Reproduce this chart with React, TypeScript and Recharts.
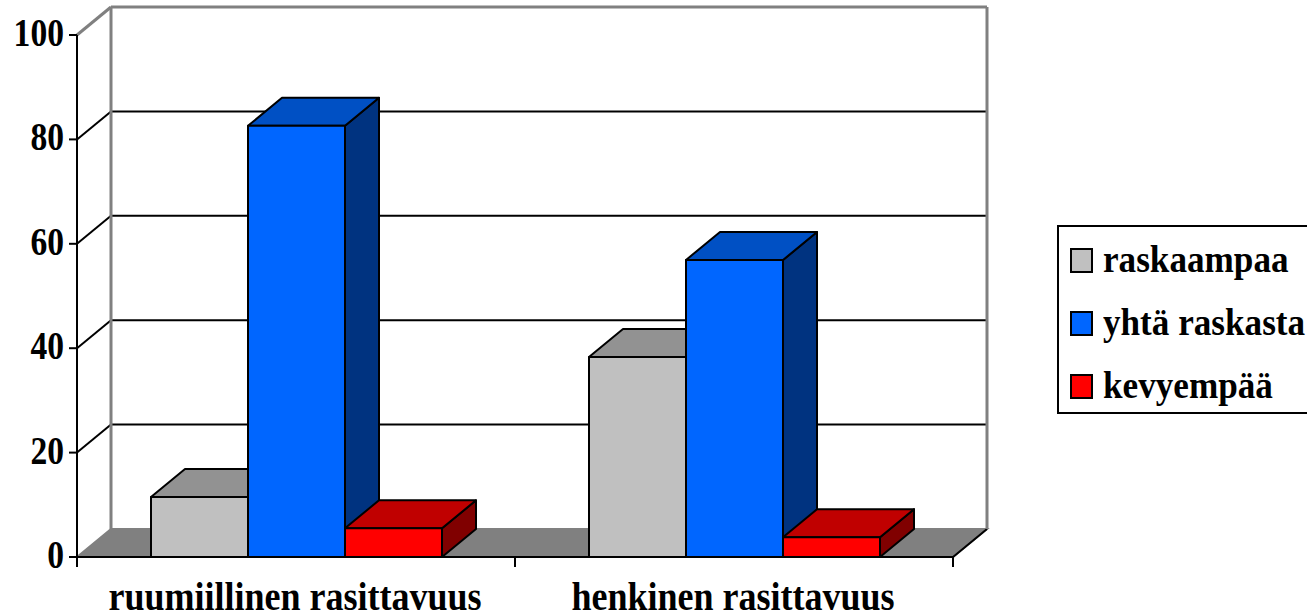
import { Bar, BarChart, CartesianGrid, Legend, XAxis, YAxis } from "recharts";

const categories = ["ruumiillinen rasittavuus", "henkinen rasittavuus"];
const raskaampaa = [11.5, 38.3];
const yhtaRaskasta = [82.6, 56.9];
const kevyempaa = [5.5, 3.8];
const yTicks = [0, 20, 40, 60, 80, 100];

const seriesNames = ["raskaampaa", "yhtä raskasta", "kevyempää"];
const frontColors = ["#c0c0c0", "#0066ff", "#ff0000"];
const topColors = ["#929292", "#0050c4", "#c00000"];
const sideColors = ["#808080", "#003380", "#800000"];

const data = categories.map((nimi, i) => ({
  nimi,
  raskaampaa: raskaampaa[i],
  yhtaRaskasta: yhtaRaskasta[i],
  kevyempaa: kevyempaa[i],
}));

const WIDTH = 1307;
const HEIGHT = 613;
const DX = 34;
const DY = 28;
const PLOT_LEFT = 77;
const PLOT_RIGHT = 953;
const PLOT_TOP = 35;
const PLOT_BOTTOM = 557;
const LEGEND_WIDTH = 260;
const FONT = '"Liberation Serif", "Times New Roman", serif';

function palkki(seriesIndex: number) {
  return function Palkki3D(props: any) {
    const { x, y, width, height } = props;
    const top = `${x},${y} ${x + DX},${y - DY} ${x + width + DX},${y - DY} ${x + width},${y}`;
    const side = `${x + width},${y} ${x + width + DX},${y - DY} ${x + width + DX},${y + height - DY} ${x + width},${y + height}`;
    return (
      <g stroke="#000" strokeWidth={2} strokeLinejoin="round">
        <polygon points={side} fill={sideColors[seriesIndex]} />
        <polygon points={top} fill={topColors[seriesIndex]} />
        <rect x={x} y={y} width={width} height={height} fill={frontColors[seriesIndex]} />
      </g>
    );
  };
}

// back wall, side wall and floor hang off the grid lines
function Ruudukko(props: any) {
  const { x1, x2, y1 } = props;
  const isFloor = Math.abs(y1 - PLOT_BOTTOM) < 1;
  const isTop = Math.abs(y1 - PLOT_TOP) < 1;
  if (isFloor) {
    return (
      <g key={props.key}>
        <polygon
          points={`${x1},${y1} ${x1 + DX},${y1 - DY} ${x2 + DX},${y1 - DY} ${x2},${y1}`}
          fill="#808080"
          stroke="#808080"
          strokeWidth={2}
        />
        <line x1={x2} y1={y1} x2={x2 + DX} y2={y1 - DY} stroke="#000" strokeWidth={2} />
      </g>
    );
  }
  const color = isTop ? "#808080" : "#000";
  const w = isTop ? 3 : 2;
  return (
    <g key={props.key}>
      {isTop && (
        <>
          <line x1={x1 + DX} y1={y1 - DY} x2={x1 + DX} y2={PLOT_BOTTOM - DY} stroke="#808080" strokeWidth={3} />
          <line x1={x2 + DX} y1={y1 - DY} x2={x2 + DX} y2={PLOT_BOTTOM - DY} stroke="#808080" strokeWidth={3} />
        </>
      )}
      <line x1={x1} y1={y1} x2={x1 + DX} y2={y1 - DY} stroke={color} strokeWidth={w} />
      <line x1={x1 + DX} y1={y1 - DY} x2={x2 + DX} y2={y1 - DY} stroke={color} strokeWidth={w} />
    </g>
  );
}

function KategoriaTick(props: any) {
  const { x, payload } = props;
  const half = (PLOT_RIGHT - PLOT_LEFT) / categories.length / 2;
  const tickX = x - 1;
  return (
    <g>
      <line x1={tickX - half} y1={PLOT_BOTTOM} x2={tickX - half} y2={PLOT_BOTTOM + 10} stroke="#000" strokeWidth={2} />
      <line x1={tickX + half} y1={PLOT_BOTTOM} x2={tickX + half} y2={PLOT_BOTTOM + 10} stroke="#000" strokeWidth={2} />
      <text
        transform={`translate(${x - 2},610) scale(0.9,1)`}
        textAnchor="middle"
        fontFamily={FONT}
        fontWeight={700}
        fontSize={40}
        fill="#000"
      >
        {payload.value}
      </text>
    </g>
  );
}

function ArvoTick(props: any) {
  const { y, payload } = props;
  return (
    <text
      transform={`translate(64,${y + 11}) scale(0.84,1)`}
      textAnchor="end"
      fontFamily={FONT}
      fontWeight={700}
      fontSize={40}
      fill="#000"
    >
      {payload.value}
    </text>
  );
}

function Selite() {
  return (
    <div
      style={{
        boxSizing: "border-box",
        width: LEGEND_WIDTH,
        height: 189,
        border: "2px solid #000",
        background: "#fff",
        position: "relative",
        fontFamily: FONT,
        fontWeight: 700,
        fontSize: 37,
        color: "#000",
      }}
    >
      {seriesNames.map((name, i) => (
        <div key={name}>
          <span
            style={{
              position: "absolute",
              boxSizing: "border-box",
              left: 11,
              top: 21 + i * 63,
              width: 23,
              height: 25,
              border: "2px solid #000",
              background: frontColors[i],
            }}
          />
          <span
            style={{
              position: "absolute",
              left: 44,
              top: 13 + i * 63,
              lineHeight: "40px",
              whiteSpace: "nowrap",
              transform: "scaleX(0.95)",
              transformOrigin: "left center",
            }}
          >
            {name}
          </span>
        </div>
      ))}
    </div>
  );
}

export default function App() {
  return (
    <div style={{ position: "absolute", left: 0, top: 0, width: WIDTH, height: HEIGHT, overflow: "hidden", background: "#fff" }}>
      <BarChart
        width={WIDTH}
        height={HEIGHT}
        data={data}
        margin={{ top: PLOT_TOP, left: 0, right: WIDTH - PLOT_RIGHT - LEGEND_WIDTH, bottom: 0 }}
        barCategoryGap={73}
        barGap={0}
      >
        <CartesianGrid horizontal={Ruudukko} vertical={false} />
        <XAxis
          dataKey="nimi"
          height={HEIGHT - PLOT_BOTTOM}
          interval={0}
          padding={{ left: 1, right: -1 }}
          tick={KategoriaTick}
          tickLine={false}
          axisLine={{ stroke: "#000", strokeWidth: 2 }}
        />
        <YAxis
          width={PLOT_LEFT}
          domain={[0, 100]}
          ticks={yTicks}
          interval={0}
          tickSize={8}
          tickLine={{ stroke: "#000", strokeWidth: 2 }}
          axisLine={{ stroke: "#000", strokeWidth: 2 }}
          tick={ArvoTick}
        />
        <Bar dataKey="raskaampaa" name={seriesNames[0]} fill={frontColors[0]} shape={palkki(0)} isAnimationActive={false} />
        <Bar dataKey="yhtaRaskasta" name={seriesNames[1]} fill={frontColors[1]} shape={palkki(1)} isAnimationActive={false} />
        <Bar dataKey="kevyempaa" name={seriesNames[2]} fill={frontColors[2]} shape={palkki(2)} isAnimationActive={false} />
        <Legend
          layout="vertical"
          align="right"
          verticalAlign="middle"
          width={LEGEND_WIDTH}
          content={Selite}
          wrapperStyle={{ left: 1057, top: 225, right: "auto", bottom: "auto" }}
        />
      </BarChart>
    </div>
  );
}
